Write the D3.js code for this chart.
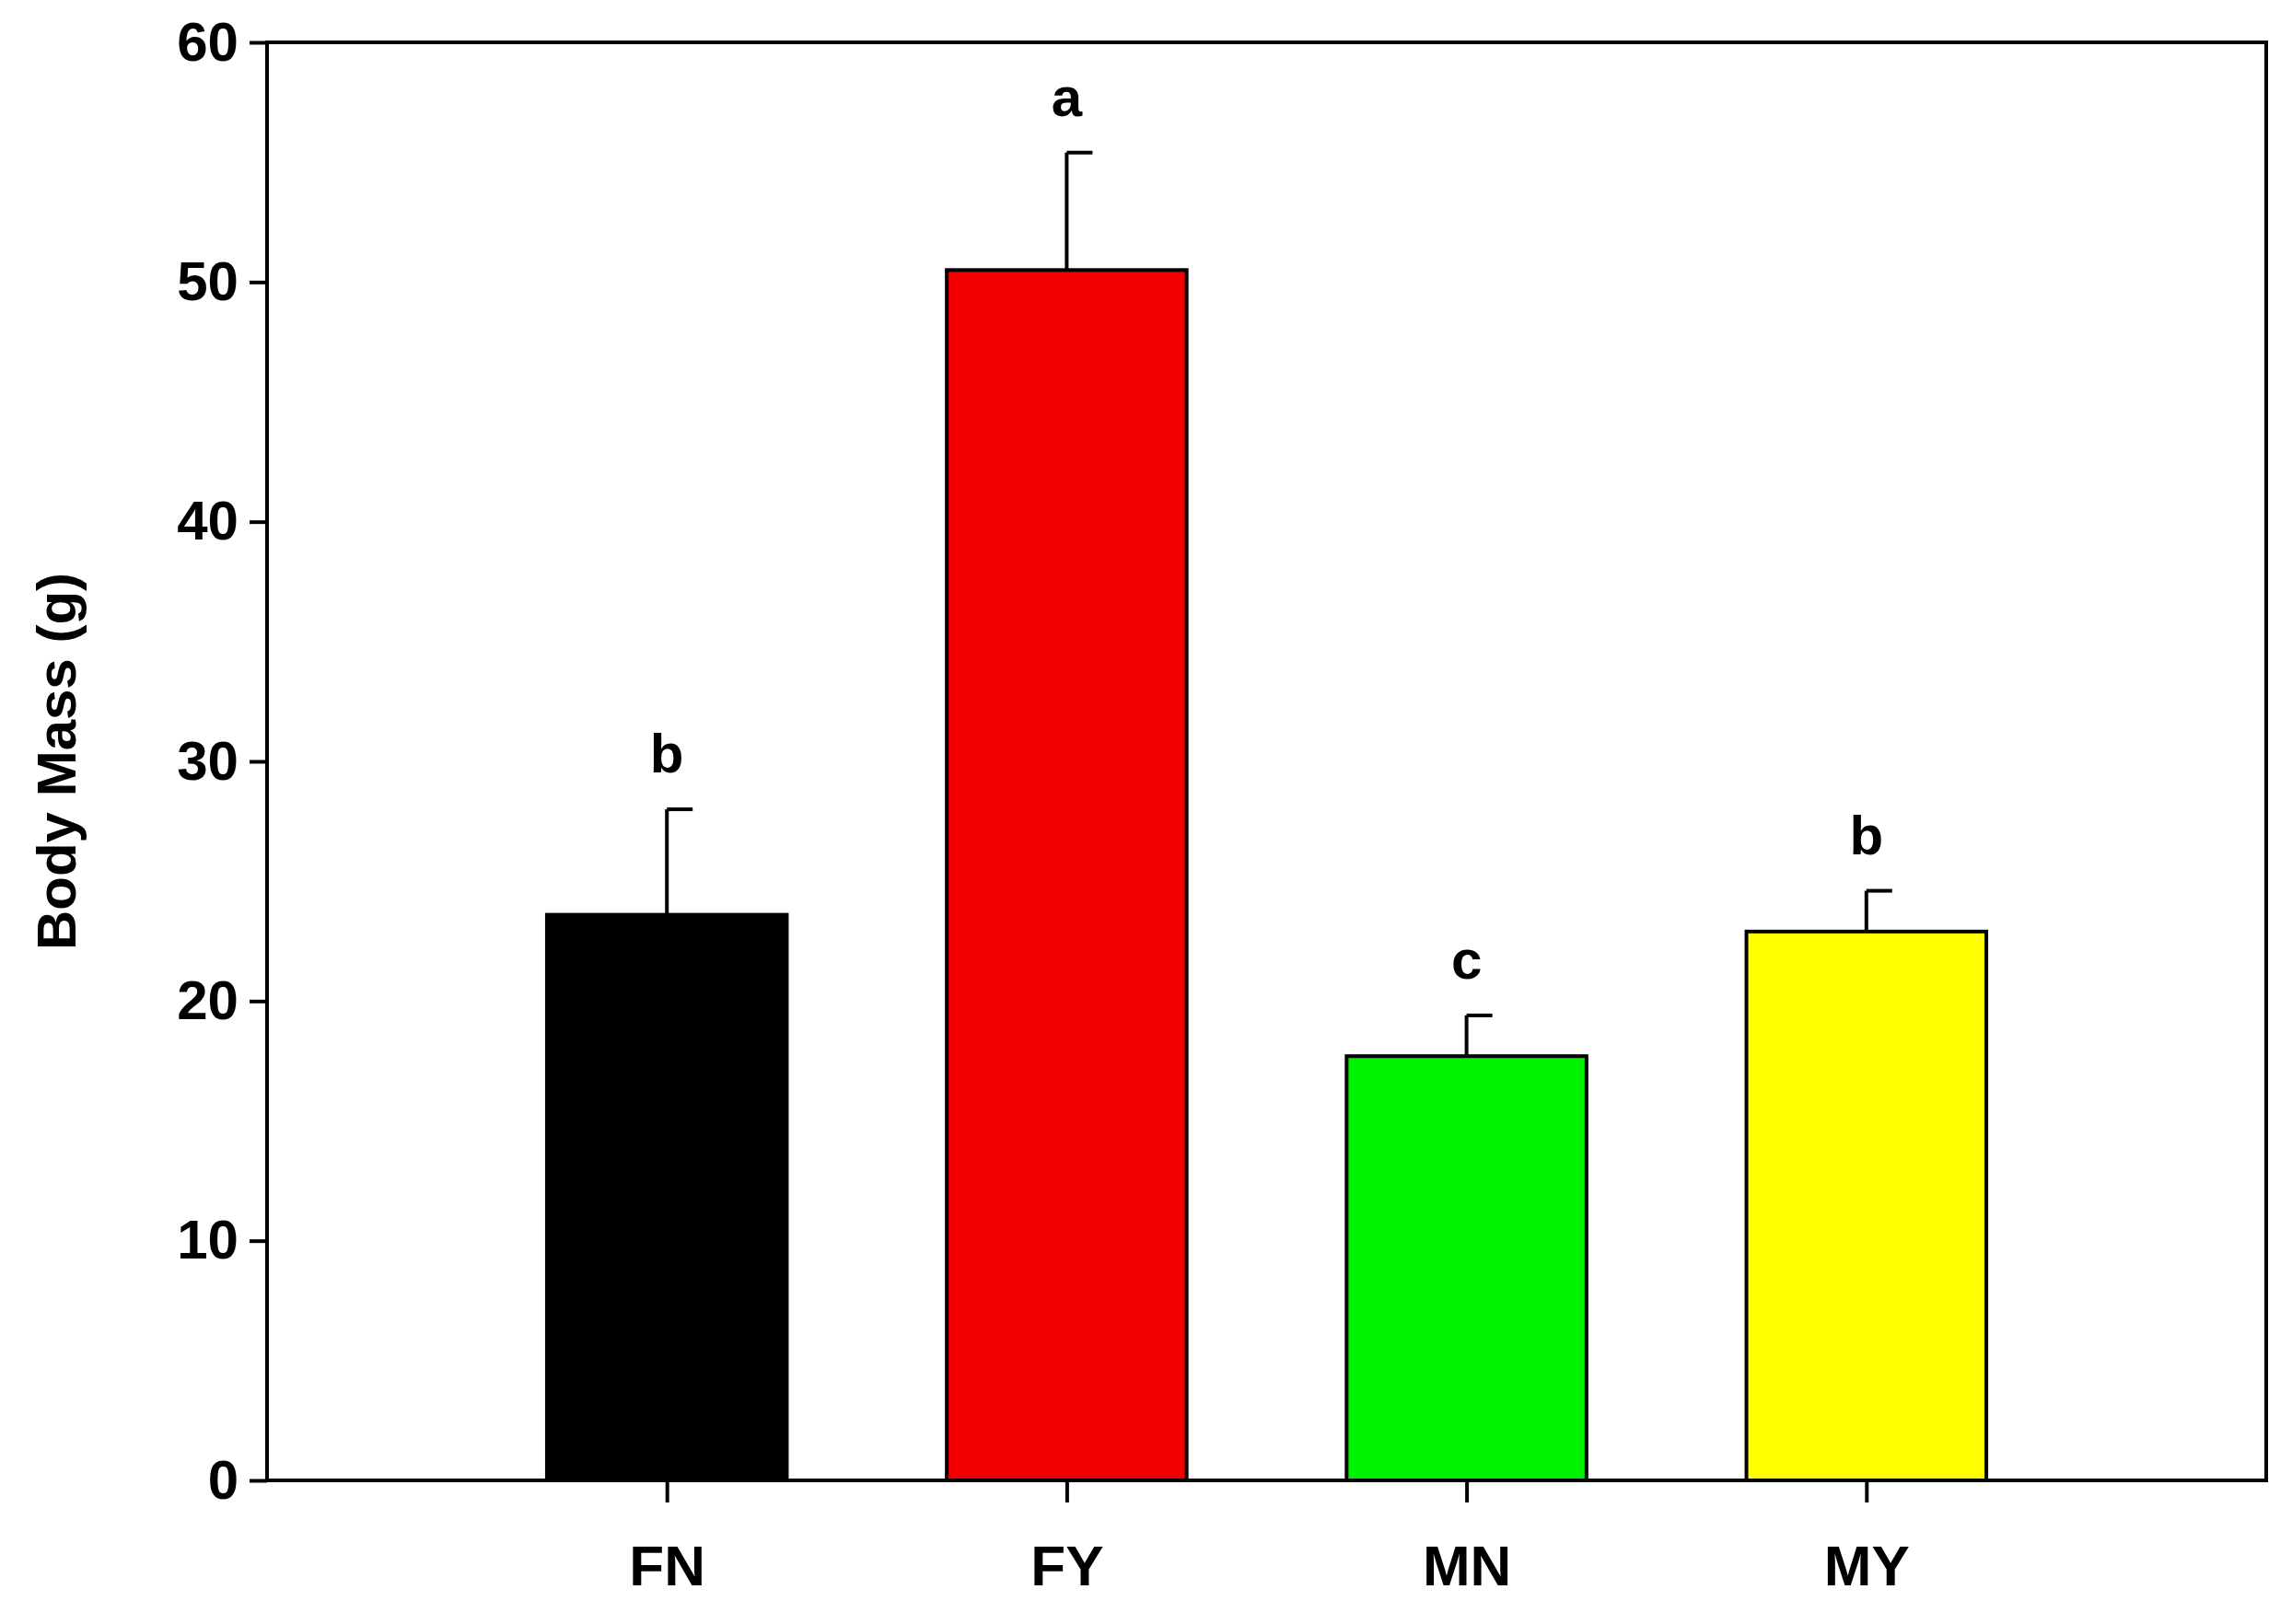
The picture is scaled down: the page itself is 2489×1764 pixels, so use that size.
<!DOCTYPE html><html><head><script src="https://d3js.org/d3.v7.min.js"></script>
<style>body{margin:0;background:#fff}</style></head><body><svg id="c" width="2489" height="1764"></svg>
<script>
const categories=["FN","FY","MN","MY"];
const means=[23.6,50.5,17.7,22.9];
const errors=[4.4,4.9,1.7,1.7];
const letters=["b","a","c","b"];
const colors=["#000000","#f20000","#00f200","#ffff00"];
const yTicks=[0,10,20,30,40,50,60];
const svg=d3.select("#c");
const L=290,R=2461,T=46,B=1608;
const x=d3.scaleLinear().domain([0,5]).range([L,R]);
const y=d3.scaleLinear().domain([0,60]).range([B,T]);
const bw=(x(1)-x(0))*0.6;
const font="'Liberation Sans',Arial,sans-serif";
const g=svg.append("g");
categories.forEach((c,i)=>{
  const cx=x(i+1);
  g.append("line").attr("x1",cx).attr("x2",cx).attr("y1",y(means[i])).attr("y2",y(means[i]+errors[i])).attr("stroke","#000").attr("stroke-width",4);
  g.append("line").attr("x1",cx).attr("x2",cx+28).attr("y1",y(means[i]+errors[i])).attr("y2",y(means[i]+errors[i])).attr("stroke","#000").attr("stroke-width",4);
  g.append("rect").attr("x",cx-bw/2).attr("y",y(means[i])).attr("width",bw).attr("height",y(0)-y(means[i])).attr("fill",colors[i]).attr("stroke","#000").attr("stroke-width",4);
  g.append("text").attr("x",cx).attr("y",y(means[i]+errors[i])-40).attr("text-anchor","middle").attr("font-family",font).attr("font-weight","bold").attr("font-size",60).text(letters[i]);
});
svg.append("rect").attr("x",L).attr("y",T).attr("width",R-L).attr("height",B-T).attr("fill","none").attr("stroke","#000").attr("stroke-width",4);
const ya=svg.append("g").attr("transform",`translate(${L},0)`).call(d3.axisLeft(y).tickValues(yTicks).tickSize(19).tickPadding(12));
ya.select(".domain").remove();
ya.selectAll("line").attr("stroke-width",4);
ya.selectAll("text").attr("font-family",font).attr("font-weight","bold").attr("font-size",60);
const xa=svg.append("g").attr("transform",`translate(0,${B})`).call(d3.axisBottom(x).tickValues([1,2,3,4]).tickFormat(d=>categories[d-1]).tickSize(24).tickPadding(46));
xa.select(".domain").remove();
xa.selectAll("line").attr("stroke-width",4);
xa.selectAll("text").attr("font-family",font).attr("font-weight","bold").attr("font-size",62);
svg.append("text").attr("transform",`translate(82,${(T+B)/2}) rotate(-90)`).attr("text-anchor","middle").attr("font-family",font).attr("font-weight","bold").attr("font-size",60).text("Body Mass (g)");
</script></body></html>
